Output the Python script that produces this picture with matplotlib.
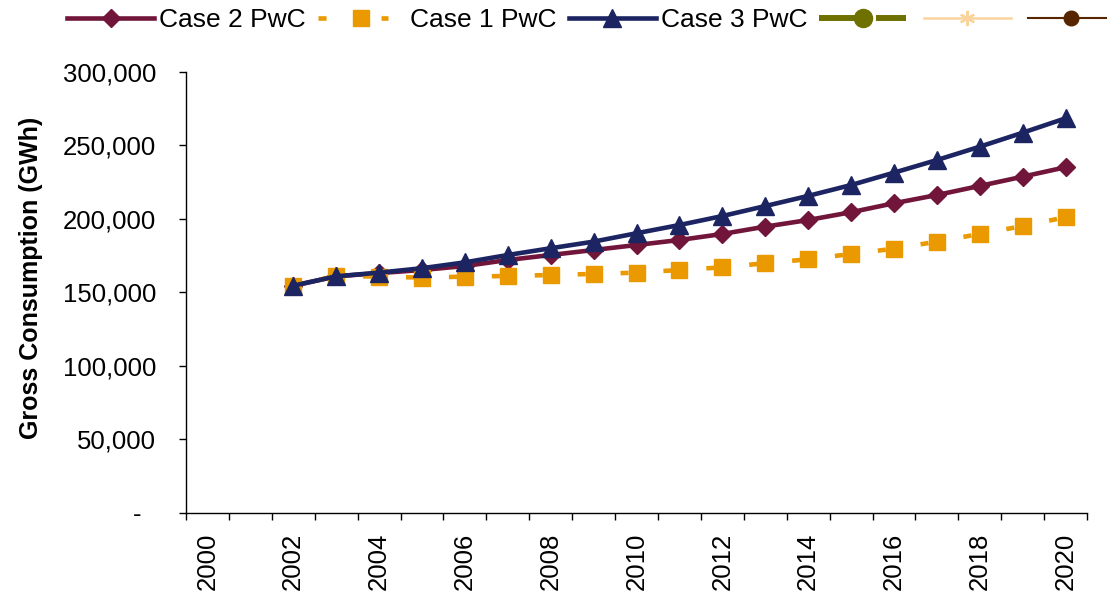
import matplotlib
matplotlib.use("Agg")
import matplotlib.pyplot as plt
from matplotlib.lines import Line2D
from matplotlib.ticker import FixedLocator, FuncFormatter, NullFormatter

plt.rcParams["font.family"] = ["Liberation Sans", "DejaVu Sans"]
plt.rcParams["lines.scale_dashes"] = False

# Category axis: one slot per year
years = [str(y) for y in range(2000, 2021)]
data_years = list(range(2002, 2021))

# Gross consumption (GWh) per scenario
case2_pwc = [154600, 161000, 163200, 165300, 168000, 172100, 175500, 178900, 182300,
             185700, 189800, 194800, 199300, 204600, 210700, 216300, 222500, 228800, 235200]
case1_pwc = [154600, 161300, 160800, 160100, 160800, 161200, 161900, 162600, 163500,
             165300, 167100, 169900, 172600, 176200, 179800, 184600, 189800, 195200, 201200]
case3_pwc = [154600, 161000, 163500, 166500, 170500, 175500, 180100, 184600, 190300,
             195900, 202000, 208800, 215700, 223100, 231500, 240100, 249200, 258700, 268500]

series_labels = ["Case 2 PwC", "Case 1 PwC", "Case 3 PwC", "", "", ""]
y_ticks = [0, 50000, 100000, 150000, 200000, 250000, 300000]

C2 = "#71153A"
C1 = "#EA9A00"
C3 = "#1C2562"
OLIVE = "#6E7000"
PEACH = "#F9D49C"
BROWN = "#572600"

FS = 18.5
LW = 3.3

fig = plt.figure(figsize=(11.07, 5.94), dpi=100)
ax = fig.add_axes([0.168, 0.1364, 0.814, 0.7424])

xpos = [years.index(str(y)) for y in data_years]

# Case 2: solid line with diamonds
ax.plot(xpos, case2_pwc, color=C2, lw=LW, marker="D", ms=9.2, mfc=C2, mec=C2, mew=1,
        solid_joinstyle="round", zorder=3)

# Case 1: dashed segments (pattern restarts on every segment) with squares
seg_dash = (136.4, (5.8, 150.0))
for i in range(len(xpos) - 1):
    ax.plot(xpos[i:i + 2], case1_pwc[i:i + 2], color=C1, lw=LW,
            linestyle=seg_dash, dash_capstyle="butt", zorder=4)
ax.plot(xpos, case1_pwc, linestyle="none", marker="s", ms=12, mfc=C1, mec=C1, mew=1, zorder=4)

# Case 3: solid line with triangles
ax.plot(xpos, case3_pwc, color=C3, lw=LW, marker="^", ms=13, mfc=C3, mec=C3, mew=1,
        solid_joinstyle="round", zorder=5)

ax.set_xlim(-0.5, len(years) - 0.5)
ax.set_ylim(0, 300000)

# Boundary ticks between categories, labels on every other category centre
ax.xaxis.set_major_locator(FixedLocator([i - 0.5 for i in range(len(years) + 1)]))
ax.xaxis.set_major_formatter(NullFormatter())
label_idx = list(range(0, len(years), 2))
ax.xaxis.set_minor_locator(FixedLocator(label_idx))
ax.xaxis.set_minor_formatter(FuncFormatter(lambda v, p: years[int(round(v))]))
ax.tick_params(axis="x", which="major", direction="out", length=5, width=1, color="black")
ax.tick_params(axis="x", which="minor", length=0, pad=14, labelsize=FS, labelrotation=90)

ax.set_yticks(y_ticks)
ax.yaxis.set_major_formatter(FuncFormatter(lambda v, p: "-  " if v == 0 else f"{v:,.0f}"))
ax.tick_params(axis="y", direction="out", length=5, width=1, color="black", pad=16.5,
               labelsize=FS)

for s in ("top", "right"):
    ax.spines[s].set_visible(False)
for s in ("left", "bottom"):
    ax.spines[s].set_color("black")
    ax.spines[s].set_linewidth(1)

ax.set_ylabel("Gross Consumption (GWh)", fontsize=18, fontweight="bold")
ax.yaxis.label.set_va("center")
ax.yaxis.set_label_coords(-0.1715, 0.534)

handles = [
    Line2D([], [], color=C2, lw=LW, marker="D", ms=9.2, mfc=C2, mec=C2),
    Line2D([], [], color=C1, lw=LW, linestyle=(0, (5.8, 39.6, 5.0, 60.0)),
           dash_capstyle="butt", marker="s", ms=12, mfc=C1, mec=C1),
    Line2D([], [], color=C3, lw=LW, marker="^", ms=13, mfc=C3, mec=C3),
    Line2D([], [], color=OLIVE, lw=4.3, linestyle=(0, (36.0, 5.0, 40.0, 5.0)),
           dash_capstyle="butt", marker="o", ms=13, mfc=OLIVE, mec=OLIVE),
    Line2D([], [], color=PEACH, lw=1.8, marker=(6, 2, 0), ms=11, mfc=PEACH, mec=PEACH, mew=1.6),
    Line2D([], [], color=BROWN, lw=1.5, marker="o", ms=10.5, mfc=BROWN, mec=BROWN),
]
fig.legend(handles, series_labels, loc="center left", bbox_to_anchor=(0.0605, 0.966),
           ncol=6, frameon=False, fontsize=19, handlelength=3.3, handletextpad=0.2,
           columnspacing=0.45, borderpad=0, borderaxespad=0, numpoints=1)

fig.savefig("out.png", dpi=100)
